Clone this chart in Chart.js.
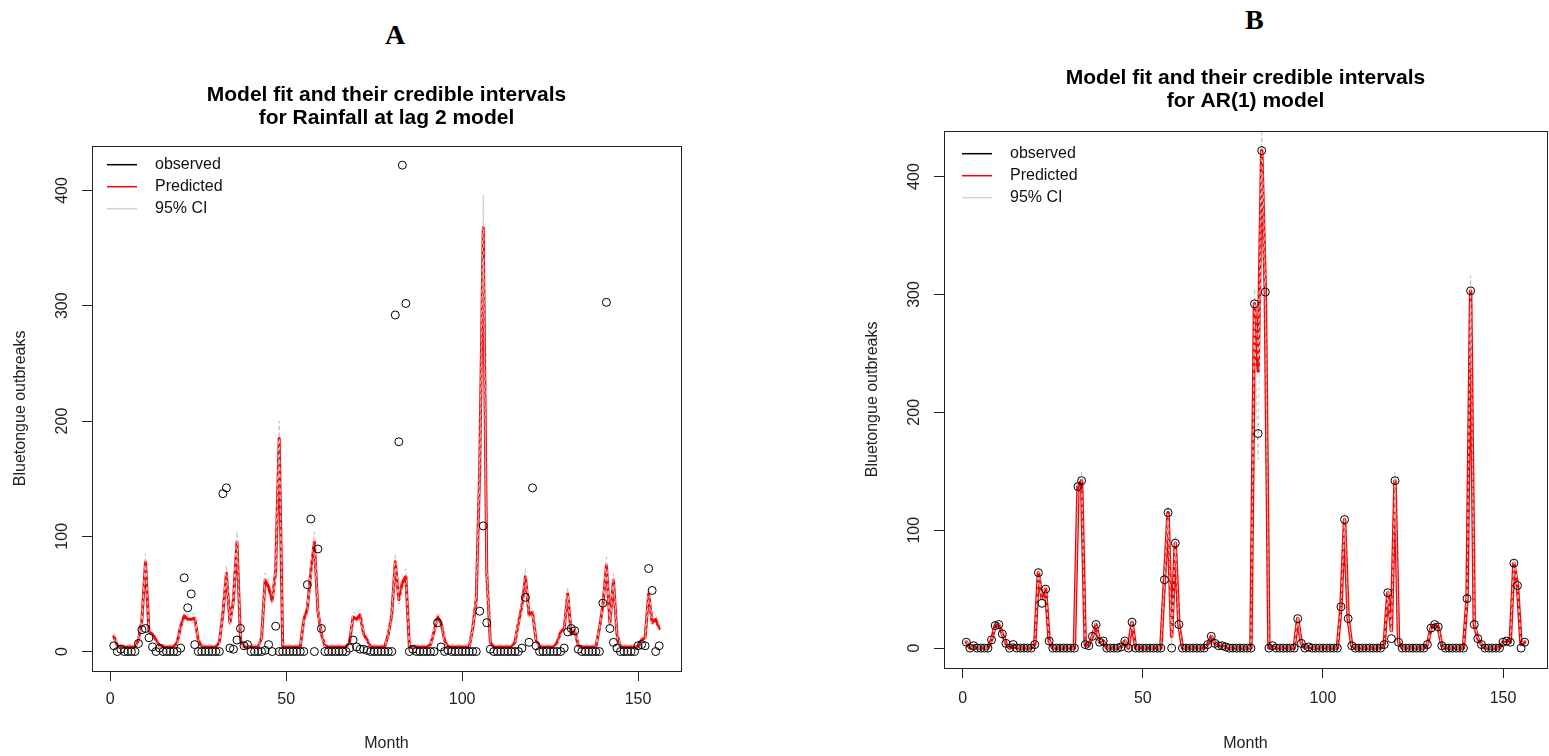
<!DOCTYPE html>
<html>
<head>
<meta charset="utf-8">
<title>Bluetongue outbreaks - model fit</title>
<script src="https://cdn.jsdelivr.net/npm/chart.js@4.4.1/dist/chart.umd.min.js"></script>
<style>
body { margin: 0; background: #fff; }
#wrap { position: relative; width: 1549px; height: 756px; overflow: hidden; }
canvas { position: absolute; top: 0; }
.tag { position: absolute; font-family: 'Liberation Serif', 'Times New Roman', serif; font-weight: bold; font-size: 28px; line-height: 28px; color: #000; }
</style>
</head>
<body>
<div id="wrap">
  <div class="tag" style="left:385px; top:21px;">A</div>
  <div class="tag" style="left:1245px; top:6px;">B</div>
  <canvas id="chartA" style="left:0px;" width="760" height="756"></canvas>
  <canvas id="chartB" style="left:800px;" width="749" height="756"></canvas>
</div>
<script>

// months 1..156
var months = [];
for (var i = 1; i <= 156; i++) months.push(i);

// observed outbreaks per month
var observed = [5,0,2,0,0,0,0,7,19,20,
   12,4,0,3,0,0,0,0,0,3,
   64,38,50,6,0,0,0,0,0,0,
   0,137,142,3,2,10,20,5,6,0,
   0,0,0,1,6,0,22,0,0,0,
   0,0,0,0,0,58,115,0,89,20,
   0,0,0,0,0,0,0,3,10,4,
   2,2,1,0,0,0,0,0,0,0,
   292,182,422,302,0,2,0,0,0,0,
   0,0,25,4,0,1,0,0,0,0,
   0,0,0,0,35,109,25,2,0,0,
   0,0,0,0,0,0,3,47,8,142,
   5,0,0,0,0,0,0,0,3,17,
   20,18,2,0,0,0,0,0,0,42,
   303,20,8,3,0,0,0,0,0,5,
   6,5,72,53,0,5];

// rainfall at lag 2 model
var predRain = [13,5,4,4,4,4,4,10,28,78,
   17,15,10,5,4,4,4,4,8,22,
   31,28,28,29,10,4,4,4,4,4,
   8,33,68,25,45,95,10,4,4,4,
   4,4,12,62,56,44,70,185,4,4,
   4,4,4,4,28,37,70,95,35,15,
   5,4,4,4,4,4,4,8,30,28,
   32,15,10,4,4,4,4,4,15,32,
   78,45,60,65,4,4,4,4,4,4,
   6,17,30,25,10,4,4,4,4,4,
   4,4,20,45,160,368,68,8,4,4,
   4,4,4,4,8,25,40,65,32,34,
   10,4,4,4,4,4,8,17,20,50,
   15,18,5,4,4,4,4,4,20,40,
   75,25,62,15,4,4,4,4,4,4,
   10,12,50,25,28,20];
var lowRain = [11,4,3,3,3,3,3,8,25,72,
   15,13,8,4,3,3,3,3,6,19,
   28,25,25,26,8,3,3,3,3,3,
   6,30,62,22,41,87,8,3,3,3,
   3,3,10,57,51,40,64,171,3,3,
   3,3,3,3,25,33,64,87,32,13,
   4,3,3,3,3,3,3,6,27,25,
   29,13,8,3,3,3,3,3,13,29,
   72,41,55,59,3,3,3,3,3,3,
   5,15,27,22,8,3,3,3,3,3,
   3,3,18,41,148,341,62,6,3,3,
   3,3,3,3,6,22,36,59,29,31,
   8,3,3,3,3,3,6,15,18,46,
   13,16,4,3,3,3,3,3,18,36,
   69,22,57,13,3,3,3,3,3,3,
   8,10,46,22,25,18];
var highRain = [16,7,6,6,6,6,6,13,32,85,
   20,18,13,7,6,6,6,6,11,26,
   35,32,32,33,13,6,6,6,6,6,
   11,37,75,29,50,104,13,6,6,6,
   6,6,15,68,62,49,77,200,6,6,
   6,6,6,6,32,42,77,104,39,18,
   7,6,6,6,6,6,6,11,34,32,
   36,18,13,6,6,6,6,6,18,36,
   85,50,66,72,6,6,6,6,6,6,
   8,20,34,29,13,6,6,6,6,6,
   6,6,23,50,173,396,75,11,6,6,
   6,6,6,6,11,29,45,72,36,38,
   13,6,6,6,6,6,11,20,23,56,
   18,21,7,6,6,6,6,6,23,45,
   82,29,68,18,6,6,6,6,6,6,
   13,15,56,29,32,23];

// AR(1) model
var predAR = [5,0,2,0,0,0,0,7,19,20,
   12,4,0,3,0,0,0,0,0,3,
   64,42,50,6,0,0,0,0,0,0,
   0,137,142,3,2,10,20,5,6,0,
   0,0,0,1,6,0,22,0,0,0,
   0,0,0,0,0,58,115,10,89,20,
   0,0,0,0,0,0,0,3,10,4,
   2,2,1,0,0,0,0,0,0,0,
   292,235,422,302,0,2,0,0,0,0,
   0,0,25,4,0,1,0,0,0,0,
   0,0,0,0,35,109,25,2,0,0,
   0,0,0,0,0,0,3,47,15,142,
   5,0,0,0,0,0,0,0,3,17,
   20,18,2,0,0,0,0,0,0,42,
   303,20,8,3,0,0,0,0,0,5,
   6,5,72,53,3,5];
var lowAR = [4,0,1,0,0,0,0,6,17,18,
   11,3,0,2,0,0,0,0,0,2,
   60,39,47,5,0,0,0,0,0,0,
   0,131,135,2,1,9,18,4,5,0,
   0,0,0,0,5,0,20,0,0,0,
   0,0,0,0,0,55,109,0,84,18,
   0,0,0,0,0,0,0,2,9,3,
   1,1,0,0,0,0,0,0,0,0,
   279,160,404,289,0,1,0,0,0,0,
   0,0,23,3,0,0,0,0,0,0,
   0,0,0,0,33,104,23,1,0,0,
   0,0,0,0,0,0,2,44,13,135,
   4,0,0,0,0,0,0,0,2,15,
   18,16,1,0,0,0,0,0,0,39,
   290,18,7,2,0,0,0,0,0,4,
   5,4,68,50,2,4];
var highAR = [6,1,3,1,1,1,1,8,21,22,
   13,5,1,4,1,1,1,1,1,4,
   68,45,53,7,1,1,1,1,1,1,
   1,143,149,4,3,11,22,6,7,1,
   1,1,1,2,7,1,24,1,1,1,
   1,1,1,1,1,61,121,14,94,22,
   1,1,1,1,1,1,1,4,11,5,
   3,3,2,1,1,1,1,1,1,1,
   305,245,440,315,1,3,1,1,1,1,
   1,1,27,5,1,2,1,1,1,1,
   1,1,1,1,37,114,27,3,1,1,
   1,1,1,1,1,1,4,50,17,149,
   6,1,1,1,1,1,1,1,4,19,
   22,20,3,1,1,1,1,1,1,45,
   316,22,9,4,1,1,1,1,1,6,
   7,6,76,56,4,6];

var xTicks = [0, 50, 100, 150];
var yTicks = [0, 100, 200, 300, 400];
var legendText = ['observed', 'Predicted', '95% CI'];
var legendColor = ['#000000', '#ff0000', '#d3d3d3'];

var FONT = "'Liberation Sans', Arial, Helvetica, sans-serif";

// R pads the axis range by 4% each side
function padRange(lo, hi) {
   var d = (hi - lo) * 0.04;
   return { min: lo - d, max: hi + d };
}
var xr = padRange(months[0], months[months.length - 1]);
var yr = padRange(Math.min.apply(null, observed), Math.max.apply(null, observed));

// box, sideways y labels and the legend (no frame), like base R graphics
var rBox = {
   id: 'rBox',
   afterDraw: function(chart, args, opts) {
      var ctx = chart.ctx;
      var a = chart.chartArea;
      var ys = chart.scales.y;
      ctx.save();
      ctx.strokeStyle = '#222';
      ctx.lineWidth = 1;
      ctx.strokeRect(Math.round(a.left) + 0.5, Math.round(a.top) + 0.5,
         Math.round(a.right - a.left), Math.round(a.bottom - a.top));

      ctx.fillStyle = '#222';
      ctx.font = '16px ' + FONT;
      ctx.textAlign = 'center';
      ctx.textBaseline = 'middle';
      yTicks.forEach(function(v) {
         ctx.save();
         ctx.translate(a.left - 29, ys.getPixelForValue(v));
         ctx.rotate(-Math.PI / 2);
         ctx.fillText(String(v), 0, 0);
         ctx.restore();
      });

      ctx.textAlign = 'left';
      for (var k = 0; k < legendText.length; k++) {
         var ly = a.top + opts.legendTop + k * 22;
         ctx.strokeStyle = legendColor[k];
         ctx.lineWidth = 1.5;
         ctx.beginPath();
         ctx.moveTo(a.left + opts.legendLeft, ly);
         ctx.lineTo(a.left + opts.legendLeft + 30, ly);
         ctx.stroke();
         ctx.fillStyle = '#111';
         ctx.fillText(legendText[k], a.left + opts.legendLeft + 48, ly);
      }
      ctx.restore();
   }
};

function tickList(list) {
   return function(scale) {
      scale.ticks = list.map(function(v) { return { value: v }; });
   };
}

function makePanel(id, title, pred, low, high, lineW, lay) {
   var ciStyle = { borderColor: '#c4c4c4', borderWidth: 1, borderDash: [4, 3], pointRadius: 0, fill: false };
   return new Chart(document.getElementById(id), {
      type: 'line',
      data: {
         labels: months,
         datasets: [
            {
               label: 'observed', data: observed, showLine: false,
               pointStyle: 'circle', pointRadius: 4, pointBorderWidth: 1,
               pointBorderColor: '#000', pointBackgroundColor: 'rgba(0,0,0,0)'
            },
            Object.assign({ label: '95% CI upper', data: high }, ciStyle),
            Object.assign({ label: '95% CI lower', data: low }, ciStyle),
            {
               label: 'Predicted', data: pred, borderColor: '#ff0000', borderWidth: lineW,
               pointRadius: 0, fill: false, borderJoinStyle: 'round', borderCapStyle: 'round'
            }
         ]
      },
      options: {
         responsive: false,
         animation: false,
         devicePixelRatio: 1,
         layout: { autoPadding: false, padding: { top: lay.top, left: lay.left, right: lay.right, bottom: 0 } },
         plugins: {
            legend: { display: false },
            tooltip: { enabled: false },
            title: {
               display: true, text: title, fullSize: false, color: '#000',
               font: { family: FONT, size: 21, weight: 'bold', lineHeight: 1.1 },
               padding: { top: 0, bottom: lay.titleGap }
            },
            rBox: { legendTop: lay.legendTop, legendLeft: lay.legendLeft }
         },
         scales: {
            x: {
               type: 'linear', min: xr.min, max: xr.max,
               afterBuildTicks: tickList(xTicks),
               afterFit: function(s) { s.height = lay.xh; },
               border: { display: false },
               grid: { drawOnChartArea: false, drawTicks: true, tickLength: 10, color: '#222' },
               ticks: { color: '#222', padding: lay.tickPad, maxRotation: 0, font: { family: FONT, size: 16 } },
               title: { display: true, text: 'Month', color: '#222', font: { family: FONT, size: 16 }, padding: { top: 0, bottom: 3 } }
            },
            y: {
               type: 'linear', min: yr.min, max: yr.max,
               afterBuildTicks: tickList(yTicks),
               afterFit: function(s) { s.width = 92; },
               border: { display: false },
               grid: { drawOnChartArea: false, drawTicks: true, tickLength: 10, color: '#222' },
               ticks: { display: false },
               title: { display: true, text: 'Bluetongue outbreaks', color: '#222', font: { family: FONT, size: 16 }, padding: { top: 11, bottom: 0 } }
            }
         }
      },
      plugins: [rBox]
   });
}

var chartA = makePanel('chartA',
   ['Model fit and their credible intervals', 'for Rainfall at lag 2 model'],
   predRain, lowRain, highRain, 3,
   { top: 84, left: 0, right: 79, xh: 85, titleGap: 15.5, tickPad: 9, legendTop: 19, legendLeft: 15 });

var chartB = makePanel('chartB',
   ['Model fit and their credible intervals', 'for AR(1) model'],
   predAR, lowAR, highAR, 3.5,
   { top: 67, left: 52, right: 2, xh: 88, titleGap: 17.5, tickPad: 11, legendTop: 23, legendLeft: 18 });

</script>
</body>
</html>
